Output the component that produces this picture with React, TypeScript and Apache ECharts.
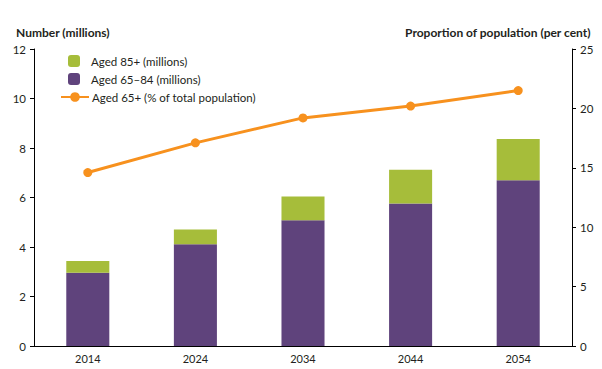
import React, { useEffect, useRef } from "react";
import * as echarts from "echarts";

const years = ["2014", "2024", "2034", "2044", "2054"];
const aged6584 = [2.96, 4.11, 5.08, 5.76, 6.7];
const aged85 = [0.47, 0.6, 0.96, 1.36, 1.66];
const pctTotal = [14.6, 17.1, 19.2, 20.2, 21.5];

const FONT = "Lato";

export default function App() {
  const ref = useRef<HTMLDivElement>(null);
  useEffect(() => {
    const chart = echarts.init(ref.current!, null, { renderer: "svg" });
    chart.setOption({
      animation: false,
      textStyle: { fontFamily: FONT },
      grid: { left: 34, right: 30, top: 49, bottom: 23 },
      legend: [
        {
          data: ["Aged 85+ (millions)", "Aged 65\u201384 (millions)"],
          orient: "vertical",
          left: 63,
          top: 50,
          itemWidth: 12,
          itemHeight: 12,
          itemGap: 6,
          textStyle: { fontSize: 11.5, color: "#231f20", fontFamily: FONT, padding: [0, 0, 0, 6] },
        },
        {
          data: ["Aged 65+ (% of total population)"],
          orient: "vertical",
          left: 55,
          top: 86,
          itemWidth: 28,
          itemHeight: 12,
          itemGap: 0,
          textStyle: { fontSize: 11.5, color: "#231f20", fontFamily: FONT, padding: [0, 0, 0, -2] },
        },
      ],
      xAxis: {
        type: "category",
        data: years,
        axisLine: { lineStyle: { color: "#000", width: 1 } },
        axisTick: { show: false },
        axisLabel: { color: "#231f20", fontSize: 11, margin: 7, fontFamily: FONT },
      },
      yAxis: [
        {
          type: "value",
          min: 0,
          max: 12,
          interval: 2,
          splitLine: { show: false },
          axisLine: { show: true, lineStyle: { color: "#000" } },
          axisTick: { show: true, length: 4, lineStyle: { color: "#000" } },
          axisLabel: { color: "#231f20", fontSize: 11.5, margin: 8, fontFamily: FONT },
        },
        {
          type: "value",
          min: 0,
          max: 25,
          interval: 5,
          position: "right",
          splitLine: { show: false },
          axisLine: { show: true, lineStyle: { color: "#000" } },
          axisTick: { show: true, length: 4, lineStyle: { color: "#000" } },
          axisLabel: { color: "#231f20", fontSize: 11.5, margin: 8, fontFamily: FONT },
        },
      ],
      graphic: [
        {
          type: "text",
          left: 16,
          top: 26,
          style: { text: "Number (millions)", font: `bold 12px ${FONT}`, fill: "#231f20" },
        },
        {
          type: "text",
          right: 11,
          top: 26,
          style: { text: "Proportion of population (per cent)", font: `bold 12px ${FONT}`, fill: "#231f20" },
        },
      ],
      series: [
        {
          name: "Aged 65\u201384 (millions)",
          type: "bar",
          stack: "n",
          data: aged6584,
          barWidth: "40%",
          itemStyle: { color: "#5f437c" },
        },
        {
          name: "Aged 85+ (millions)",
          type: "bar",
          stack: "n",
          data: aged85,
          barWidth: "40%",
          itemStyle: { color: "#a6bd3a" },
        },
        {
          name: "Aged 65+ (% of total population)",
          type: "line",
          yAxisIndex: 1,
          data: pctTotal,
          symbol: "circle",
          symbolSize: 9,
          lineStyle: { color: "#f7911e", width: 3 },
          itemStyle: { color: "#f7911e" },
        },
      ],
    });
    return () => chart.dispose();
  }, []);
  return <div ref={ref} style={{ width: 602, height: 369, position: "absolute", left: 0, top: 0 }} />;
}
